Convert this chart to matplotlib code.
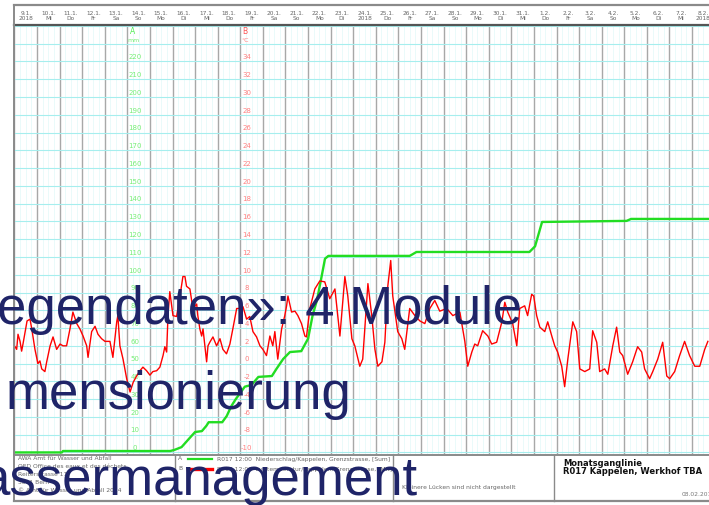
import matplotlib

matplotlib.use("Agg")

import matplotlib.pyplot as plt
import matplotlib.transforms as mtransforms
import numpy as np

# --- data -----------------------------------------------------------------
day_labels = ["9.1.", "10.1.", "11.1.", "12.1.", "13.1.", "14.1.", "15.1.", "16.1.",
              "17.1.", "18.1.", "19.1.", "20.1.", "21.1.", "22.1.", "23.1.", "24.1.",
              "25.1.", "26.1.", "27.1.", "28.1.", "29.1.", "30.1.", "31.1.", "1.2.",
              "2.2.", "3.2.", "4.2.", "5.2.", "6.2.", "7.2.", "8.2."]
weekday_labels = ["2018", "Mi", "Do", "Fr", "Sa", "So", "Mo", "Di", "Mi", "Do", "Fr",
                  "Sa", "So", "Mo", "Di", "2018", "Do", "Fr", "Sa", "So", "Mo", "Di",
                  "Mi", "Do", "Fr", "Sa", "So", "Mo", "Di", "Mi", "2018"]

# A: cumulative precipitation (mm), days since 9.1. 00:00
rain_day = [0, 2.1, 2.15, 6.9, 7.1, 7.4, 7.8, 8.0, 8.3, 8.5, 8.6, 9.2, 9.4, 9.6, 9.8,
            10.2, 10.5, 10.8, 11.4, 11.6, 11.9, 12.2, 12.7, 13.0, 13.2, 13.4, 13.6,
            13.75, 13.9, 17.5, 17.8, 22.8, 23.05, 23.36, 27.1, 27.3, 30.8]
rain_mm = [0, 0, 0.8, 0.8, 1.5, 3, 8.7, 11.5, 12, 15, 17, 17, 20.5, 26, 30,
           37, 38, 42.5, 43, 47, 52.6, 56.5, 57, 64, 77, 86, 99,
           109, 110.6, 110.6, 112.8, 112.8, 116, 129.7, 130.3, 131.4, 131.4]

# B: air temperature (°C)
temp_day = [0.03, 0.10, 0.16, 0.25, 0.32, 0.38, 0.56, 0.69, 0.77, 0.91, 1.04, 1.13, 1.21,
            1.35, 1.43, 1.58, 1.71, 1.87, 2.02, 2.15, 2.31, 2.46, 2.59, 2.76, 2.90, 3.04,
            3.20, 3.26, 3.42, 3.57, 3.70, 3.86, 4.01, 4.23, 4.36, 4.53, 4.58, 4.67, 4.81,
            4.97, 5.12, 5.26, 5.41, 5.56, 5.69, 5.85, 6.00, 6.13, 6.30, 6.44, 6.58, 6.66,
            6.74, 6.80, 6.88, 7.02, 7.18, 7.33, 7.46, 7.55, 7.62, 7.77, 7.90, 8.07, 8.12,
            8.21, 8.29, 8.35, 8.43, 8.51, 8.57, 8.65, 8.79, 8.95, 9.10, 9.23, 9.39, 9.54,
            9.67, 9.84, 9.98, 10.12, 10.28, 10.42, 10.56, 10.72, 10.87, 11.0, 11.16, 11.31,
            11.44, 11.53, 11.66, 11.83, 11.97, 12.05, 12.11, 12.27, 12.42, 12.55, 12.71,
            12.86, 12.93, 13.08, 13.30, 13.52, 13.74, 13.96, 14.19, 14.41, 14.63, 14.76,
            14.94, 15.07, 15.29, 15.42, 15.65, 15.82, 15.96, 16.09, 16.27, 16.40, 16.53,
            16.66, 16.75, 16.97, 17.15, 17.28, 17.50, 17.73, 17.95, 18.17, 18.39, 18.61,
            18.83, 19.14, 19.41, 19.72, 19.94, 20.07, 20.25, 20.38, 20.51, 20.73, 20.96,
            21.13, 21.35, 21.58, 21.71, 21.84, 22.06, 22.24, 22.37, 22.59, 22.72, 22.90,
            22.99, 23.12, 23.26, 23.48, 23.61, 23.79, 23.92, 24.05, 24.23, 24.36, 24.50,
            24.67, 24.72, 24.89, 25.03, 25.25, 25.47, 25.60, 25.78, 25.91, 26.13, 26.27,
            26.49, 26.66, 26.80, 26.93, 27.15, 27.37, 27.59, 27.77, 27.90, 28.12, 28.26,
            28.48, 28.70, 28.88, 29.01, 29.23, 29.45, 29.67, 29.89, 30.12, 30.34, 30.56,
            30.70]
temp_c = [1.9, 1.6, 3.3, 2.5, 1.4, 2.2, 4.8, 5.0, 3.9, 1.6, 0.0, 0.3, -0.6,
          -0.9, 0.2, 2.0, 3.0, 1.6, 2.2, 2.0, 2.0, 3.9, 5.8, 4.5, 3.9, 3.1,
          2.0, 0.7, 3.6, 4.2, 3.3, 2.8, 2.5, 2.5, 0.7, 4.7, 5.4, 2.0, 0.5,
          -1.7, -3.2, -2.1, -1.4, -0.8, -0.4, -0.8, -1.3, -0.9, -0.8, -0.4, 0.9, 1.9,
          1.3, 5.4, 8.1, 5.4, 5.3, 7.6, 9.8, 9.8, 8.7, 8.4, 6.2, 6.7, 5.4,
          3.9, 3.1, 3.9, 2.0, 0.2, 2.0, 2.4, 3.0, 2.0, 2.8, 1.6, 1.1, 2.2,
          3.9, 6.2, 6.2, 6.4, 5.0, 5.3, 3.6, 3.0, 2.0, 1.6, 0.9, 3.1,
          2.0, 3.6, 0.5, 3.9, 5.4, 6.5, 7.6, 5.8, 5.9, 5.4, 4.5,
          3.1, 3.0, 6.2, 8.4, 9.3, 9.2, 7.3, 8.4, 3.1, 9.8, 7.6,
          2.8, 2.0, -0.3, 0.5, 9.0, 5.4, 1.6, -0.3, 0.2, 2.4, 8.7,
          11.6, 7.6, 3.6, 2.8, 1.6, 6.2, 5.4, 4.8, 4.5, 6.2, 7.1,
          5.9, 6.2, 5.4, 5.8, 2.5, -0.3, 1.3, 2.2, 2.0, 3.7, 3.1,
          2.2, 2.4, 4.7, 6.9, 5.8, 4.5, 2.0, 6.2, 6.5, 5.4, 7.8,
          7.6, 5.4, 4.1, 3.6, 4.7, 3.1, 2.0, 1.3, -0.3, -2.6, 0.5,
          3.7, 4.7, 3.6, -0.6, -0.9, -0.6, 3.7, 2.4, -0.9, -0.6, -1.2,
          2.0, 4.1, 1.3, 0.9, -1.2, 0.2, 1.9, 1.3, -0.6, -1.7, -0.9,
          0.5, 2.4, -1.4, -1.7, -0.9, 0.9, 2.5, 0.9, -0.3, -0.3, 1.6,
          2.5]

mm_ticks = list(range(0, 230, 10))
degc_ticks = list(range(-10, 36, 2))

# --- figure ----------------------------------------------------------------
W, H = 709, 505
fig = plt.figure(figsize=(W / 100, H / 100), dpi=100)
fig.patch.set_facecolor("white")

x0, day_w = 14.4, 22.6
y_top, y_bot = 25, 453.5
px_per_mm = 1.777

ax = fig.add_axes([x0 / W, (H - y_bot) / H, 1 - x0 / W, (y_bot - y_top) / H])
ax.set_xlim(0, (W - x0) / day_w)
lo, hi = -0.6, (y_bot - y_top) / px_per_mm - 0.6
ax.set_ylim(lo, hi)
ax.set_xticks(np.arange(0, 31, 1))
ax.set_xticks(np.arange(0, 31, 0.25), minor=True)
ax.set_yticks(np.arange(0, 241, 10))
ax.grid(which="minor", axis="x", color="#e2f9f9", lw=0.5)
ax.grid(which="major", axis="x", color="#a8a8a8", lw=1.0)
ax.grid(which="major", axis="y", color="#a6eeee", lw=0.8)
ax.tick_params(which="both", length=0, labelbottom=False, labelleft=False)
for s in ax.spines.values():
    s.set_visible(False)
ax.set_axisbelow(True)

ax2 = ax.twinx()
ax2.set_ylim(-10 + lo / 5, -10 + hi / 5)
ax2.axis("off")

ax.plot(rain_day, rain_mm, color="#22dd22", lw=1.7, zorder=4, clip_on=False)
ax2.plot(temp_day, temp_c, color="#ff0000", lw=1.0, zorder=3)

# axis labels inside the plot
off = mtransforms.offset_copy(ax.transData, fig=fig, x=0, y=3, units="points")
off2 = mtransforms.offset_copy(ax2.transData, fig=fig, x=0, y=3, units="points")
for v in mm_ticks:
    ax.text(5.34, v, str(v), transform=off, color="#77ee77", fontsize=5,
            ha="center", va="center", zorder=2)
for v in degc_ticks:
    ax2.text(10.29, v, str(v), transform=off2, color="#ff8080", fontsize=5,
             ha="center", va="center", zorder=2)

# overlay in pixel coordinates for frame, header and footer
ov = fig.add_axes([0, 0, 1, 1])
ov.set_xlim(0, W)
ov.set_ylim(H, 0)
ov.axis("off")
ov.patch.set_alpha(0)

ov.text(133, 32, "A", color="#55ee55", fontsize=5.5, ha="center", va="center")
ov.text(133, 40, "mm", color="#77ee77", fontsize=4.5, ha="center", va="center")
ov.text(245, 32, "B", color="#ff5555", fontsize=5.5, ha="center", va="center")
ov.text(245, 40, "°C", color="#ff7777", fontsize=4.5, ha="center", va="center")

frame = "#8a8a8a"
ov.plot([x0, W], [5, 5], color=frame, lw=1.6)
ov.plot([x0, W], [25, 25], color="#555555", lw=1.6)
ov.plot([x0, x0], [5, 501], color=frame, lw=1.4)
ov.plot([x0, W], [455, 455], color=frame, lw=1.4)
ov.plot([x0, W], [501, 501], color=frame, lw=1.6)
for xs in (175, 393, 554):
    ov.plot([xs, xs], [455, 501], color=frame, lw=1.0)

hdr = mtransforms.blended_transform_factory(ax.transData, ov.transData)
for i, (d, w) in enumerate(zip(day_labels, weekday_labels)):
    ov.text(i + 0.5, 13.5, d, transform=hdr, fontsize=4.2, color="#666666",
            ha="center", va="center")
    ov.text(i + 0.5, 18.5, w, transform=hdr, fontsize=4.2, color="#666666",
            ha="center", va="center")

# footer
small = dict(fontsize=4.3, color="#666666", va="center", ha="left")
for yy, t in zip([459, 466, 474, 482, 491],
                 ["AWA Amt für Wasser und Abfall", "OED Office des eaux et des déchets",
                  "Reiterstrasse 11", "3011 Bern",
                  "© Amt für Wasser und Abfall 2014"]):
    ov.text(18, yy, t, **small)
ov.text(178, 459, "A", **small)
ov.plot([188, 212], [459, 459], color="#22dd22", lw=1.6)
ov.text(217, 459, "R017 12:00  Niederschlag/Kappelen, Grenzstrasse, [Sum]", **small)
ov.text(178, 469, "B", **small)
ov.plot([188, 212], [469, 469], color="#ff0000", lw=2.4)
ov.text(217, 469, "R017 12:00  Lufttemperatur/Kappelen, Grenzstrasse, [Mit]", **small)
ov.text(402, 487, "Kleinere Lücken sind nicht dargestellt", **small)
ov.text(563, 463, "Monatsganglinie", fontsize=6, fontweight="bold", color="#111111",
        va="center", ha="left")
ov.text(563, 472, "R017 Kappelen, Werkhof TBA", fontsize=6, fontweight="bold",
        color="#111111", va="center", ha="left")
ov.text(682, 495, "08.02.2018", fontsize=4.3, color="#777777", va="center", ha="left")

# slide text laid over the chart
navy = "#1f2468"
big = dict(fontsize=38, family="Liberation Sans", color=navy, ha="right",
           va="baseline", zorder=10)
ov.text(522, 324, "egendaten»: 4 Module", **big)
ov.text(351, 409, "mensionierung", **big)
ov.text(418, 495, "assermanagement", **big)

fig.savefig("out.png", dpi=100, facecolor="white")
plt.close(fig)
